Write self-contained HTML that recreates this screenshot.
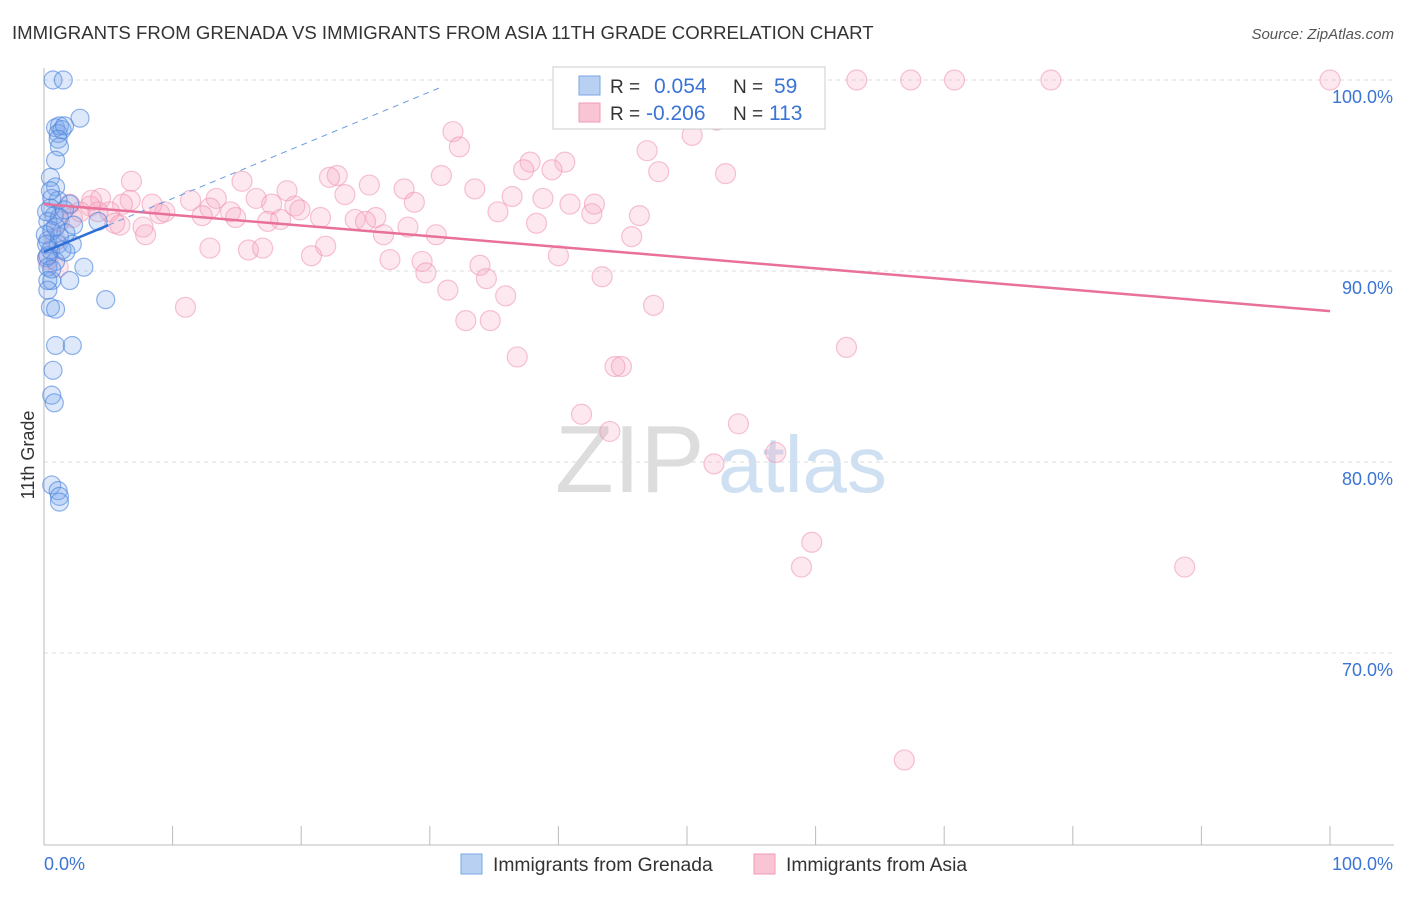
<!DOCTYPE html>
<html><head><meta charset="utf-8"><style>
body{margin:0;background:#fff;font-family:"Liberation Sans",sans-serif}
svg text{font-family:"Liberation Sans",sans-serif}
</style></head><body>
<svg width="1406" height="892">
<text x="12" y="39" font-size="18.6" fill="#333">IMMIGRANTS FROM GRENADA VS IMMIGRANTS FROM ASIA 11TH GRADE CORRELATION CHART</text>
<text x="1394" y="39" font-size="15" fill="#555" font-style="italic" text-anchor="end">Source: ZipAtlas.com</text>
<g>
<text x="555" y="492" font-size="96" fill="#ddd" font-family="Liberation Serif">ZIP</text>
<text x="718" y="492" font-size="80" fill="#cfe0f3">atlas</text>
</g>
<g id="grid"></g>
<g id="axes"></g>
<g id="pts"></g>
<g id="trend"></g>
<text x="34" y="455" font-size="18" fill="#333" transform="rotate(-90 34 455)" text-anchor="middle">11th Grade</text>
<g>
<rect x="553" y="67" width="272" height="62" fill="#fff" stroke="#ccc"/>
<rect x="579" y="76" width="21" height="19" fill="#b8d1f3" stroke="#7aa6e6"/>
<rect x="579" y="103" width="21" height="19" fill="#f9c5d4" stroke="#f09ab4"/>
<text x="610" y="93" font-size="19" fill="#333">R =</text><text x="654" y="93" font-size="21" fill="#3b74d4">0.054</text>
<text x="733" y="93" font-size="19" fill="#333">N =</text><text x="774" y="93" font-size="21" fill="#3b74d4">59</text>
<text x="610" y="120" font-size="19" fill="#333">R =</text><text x="646" y="120" font-size="21" fill="#3b74d4">-0.206</text>
<text x="733" y="120" font-size="19" fill="#333">N =</text><text x="769" y="120" font-size="21" fill="#3b74d4">113</text>
</g>
<g>
<rect x="461" y="854" width="21" height="20" fill="#b8d1f3" stroke="#7aa6e6"/>
<text x="493" y="871" font-size="19.3" fill="#333">Immigrants from Grenada</text>
<rect x="754" y="854" width="21" height="20" fill="#f9c5d4" stroke="#f09ab4"/>
<text x="786" y="871" font-size="19.3" fill="#333">Immigrants from Asia</text>
</g>
</svg>
<script>
const yTicks=[100,90,80,70];
const yTickLabels=["100.0%","90.0%","80.0%","70.0%"];
const xTicks=[0,10,20,30,40,50,60,70,80,90,100];
const blueX=[0.7,1.5,0.9,1.2,1.1,1.4,2.8,1.6,1.1,1.2,0.9,0.5,0.9,0.6,1.1,0.5,0.8,0.3,1.2,0.6,1.7,0.3,1.1,2.2,0.5,1.4,0.2,0.9,1.7,0.3,3.1,0.6,2.0,0.3,0.5,0.9,4.8,0.9,2.2,0.7,0.6,0.8,0.6,1.1,1.2,1.2,4.2,0.3,0.1,0.2,0.5,0.6,1.2,0.2,2.3,1.6,0.9,0.3,2.0];
const blueY=[100,100,97.5,97.6,97.2,97.4,98.0,97.6,96.9,96.5,95.8,94.9,94.4,93.8,93.7,93.3,92.9,92.6,92.8,92.1,92.0,91.6,91.4,91.4,91.1,91.1,90.7,90.5,91.0,90.2,90.2,89.5,89.5,89.0,88.1,88.0,88.5,86.1,86.1,84.8,83.5,83.1,78.8,78.5,78.2,77.9,92.6,90.8,91.9,93.1,94.2,90.1,91.8,91.4,92.4,93.2,92.3,89.5,93.5];
const pinkX=[53.5,63.2,67.4,70.8,78.3,100,52.3,31.8,50.4,32.3,46.9,37.8,40.5,37.3,39.5,47.8,53.0,22.8,22.2,30.9,6.8,15.4,25.3,33.5,28.0,18.9,4.4,6.7,16.5,36.4,38.8,28.8,42.8,2.0,3.6,6.1,8.4,11.4,13.4,17.7,19.5,23.4,12.9,19.9,35.3,40.9,42.6,46.3,2.8,5.1,9.0,9.4,12.3,14.5,14.9,21.5,24.2,25.8,25.0,17.4,18.4,38.3,7.7,5.5,1.2,2.2,4.2,26.4,28.3,30.5,45.7,7.9,21.9,12.9,15.9,17.0,20.8,26.9,29.4,40.0,33.9,29.7,43.4,34.4,31.4,35.9,11.0,47.4,32.8,34.7,36.8,62.4,44.4,44.9,41.8,44.0,54.0,56.9,52.1,59.7,58.9,88.7,66.9,1.1,0.9,3.7,5.9,0.3];
const pinkY=[100,100,100,100,100,100,97.9,97.3,97.1,96.5,96.3,95.7,95.7,95.3,95.3,95.2,95.1,95.0,94.9,95.0,94.7,94.7,94.5,94.3,94.3,94.2,93.8,93.7,93.8,93.9,93.8,93.6,93.5,93.5,93.4,93.5,93.5,93.7,93.8,93.5,93.4,94.0,93.3,93.2,93.1,93.5,93.0,92.9,93.1,93.1,93.0,93.1,92.9,93.1,92.8,92.8,92.7,92.8,92.6,92.6,92.7,92.5,92.3,92.5,92.6,92.8,93.1,91.9,92.3,91.9,91.8,91.9,91.3,91.2,91.1,91.2,90.8,90.6,90.5,90.8,90.3,89.9,89.7,89.6,89.0,88.7,88.1,88.2,87.4,87.4,85.5,86.0,85.0,85.0,82.5,81.6,82.0,80.5,79.9,75.8,74.5,74.5,64.4,90.2,91.6,93.7,92.4,90.6];
const blueTrend=[[0,91.0],[5,92.4]];
const blueTrendExt=[[5,92.4],[30.8,99.6]];
const pinkTrend=[[0,93.5],[100,87.9]];
const NS="http://www.w3.org/2000/svg";
const sx=v=>44+v*12.86;
const sy=v=>80+(100-v)*19.1;
function mk(t,a,p){const e=document.createElementNS(NS,t);for(const k in a)e.setAttribute(k,a[k]);p.appendChild(e);return e;}
const grid=document.getElementById('grid'),axes=document.getElementById('axes'),pts=document.getElementById('pts'),tr=document.getElementById('trend');
yTicks.forEach((v,i)=>{
 const l=mk('line',{x1:44,x2:1394,y1:sy(v),y2:sy(v),stroke:'#ddd','stroke-dasharray':'4,4'},grid);
 
 
 const t=mk('text',{x:1393,y:sy(v)+23,'font-size':18,fill:'#3b74d4','text-anchor':'end'},axes);
 t.textContent=yTickLabels[i];
 
 
});
const ax=mk('line',{x1:44,x2:1394,y1:845,y2:845,stroke:'#bbb'},axes);


const ay=mk('line',{x1:44,x2:44,y1:68,y2:845,stroke:'#bbb'},axes);


xTicks.forEach(v=>{
 const t=mk('line',{x1:sx(v),x2:sx(v),y1:826,y2:845,stroke:'#bbb'},axes);
 
 
});
[[0,'0.0%','start',44],[100,'100.0%','end',1393]].forEach(d=>{
 const t=mk('text',{x:d[3],y:870,'font-size':18,fill:'#3b74d4','text-anchor':d[2]},axes);
 t.textContent=d[1];
 
 
});
pinkX.forEach((x,i)=>{
 const c=mk('circle',{cx:sx(x),cy:sy(pinkY[i]),r:10,fill:'rgba(246,165,190,0.25)',stroke:'rgba(238,145,175,0.55)','stroke-width':1.2},pts);
 
 
});
blueX.forEach((x,i)=>{
 const c=mk('circle',{cx:sx(x),cy:sy(blueY[i]),r:9,fill:'rgba(120,165,235,0.25)',stroke:'rgba(70,130,220,0.6)','stroke-width':1.2},pts);
 
 
});
const l1=mk('line',{x1:sx(pinkTrend[0][0]),y1:sy(pinkTrend[0][1]),x2:sx(pinkTrend[1][0]),y2:sy(pinkTrend[1][1]),stroke:'#e8709a','stroke-width':2.5},tr);


const l2=mk('line',{x1:sx(blueTrendExt[0][0]),y1:sy(blueTrendExt[0][1]),x2:sx(blueTrendExt[1][0]),y2:sy(blueTrendExt[1][1]),stroke:'#6a9be0','stroke-width':1,'stroke-dasharray':'6,5'},tr);


const l3=mk('line',{x1:sx(blueTrend[0][0]),y1:sy(blueTrend[0][1]),x2:sx(blueTrend[1][0]),y2:sy(blueTrend[1][1]),stroke:'#2f6fd6','stroke-width':2.5},tr);


</script>
</body></html>
